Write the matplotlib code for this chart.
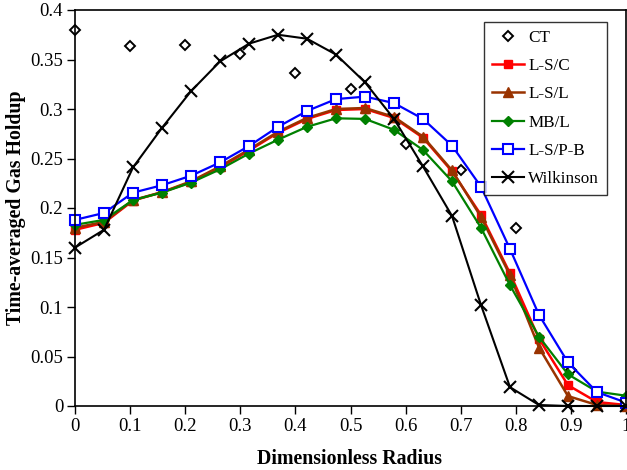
import matplotlib
matplotlib.use("Agg")
import matplotlib.pyplot as plt
import numpy as np

plt.rcParams['font.family'] = ['Liberation Serif', 'DejaVu Serif']

r_sim = [i / 19 for i in range(20)]
r_ct = [0.0, 0.1, 0.2, 0.3, 0.4, 0.5, 0.6, 0.7, 0.8, 0.9]

ct = [0.380, 0.364, 0.365, 0.356, 0.336, 0.320, 0.265, 0.238, 0.180, 0.036]
ls_c = [0.178, 0.185, 0.2075, 0.216, 0.226, 0.241, 0.258, 0.276, 0.290, 0.299,
        0.300, 0.291, 0.271, 0.237, 0.193, 0.134, 0.068, 0.021, 0.004, 0.001]
ls_l = [0.180, 0.186, 0.208, 0.216, 0.227, 0.242, 0.259, 0.277, 0.291, 0.300,
        0.301, 0.292, 0.272, 0.238, 0.191, 0.132, 0.059, 0.010, 0.001, 0.000]
mb_l = [0.183, 0.188, 0.208, 0.2155, 0.2256, 0.239, 0.255, 0.269, 0.282, 0.2906,
        0.290, 0.279, 0.2586, 0.227, 0.180, 0.122, 0.070, 0.032, 0.0145, 0.0104]
ls_pb = [0.188, 0.195, 0.2155, 0.223, 0.2326, 0.246, 0.2626, 0.282, 0.298, 0.310,
         0.3125, 0.306, 0.290, 0.263, 0.2215, 0.1586, 0.092, 0.044, 0.014, 0.0035]
wilk = [0.160, 0.178, 0.241, 0.281, 0.318, 0.348, 0.366, 0.375, 0.371, 0.355,
        0.327, 0.290, 0.242, 0.192, 0.102, 0.019, 0.001, 0.000, 0.000, 0.000]

fig = plt.figure(figsize=(6.27, 4.70), dpi=100)
ax = fig.add_axes([75/627, 1 - 406/470, 551/627, 396/470])

ax.plot(r_ct, ct, linestyle='none', marker='D', markersize=5.5, markerfacecolor='white',
        markeredgecolor='black', markeredgewidth=1.4, label='CT', clip_on=False)
ax.plot(r_sim, ls_c, color='#FF0000', lw=1.8, marker='s', markersize=6, label='L-S/C', clip_on=False)
ax.plot(r_sim, ls_l, color='#993300', lw=1.8, marker='^', markersize=6.5, label='L-S/L', clip_on=False)
ax.plot(r_sim, mb_l, color='#008000', lw=1.6, marker='D', markersize=5, label='MB/L', clip_on=False)
ax.plot(r_sim, ls_pb, color='#0000FF', lw=1.6, marker='s', markersize=6.5, markerfacecolor='white',
        markeredgewidth=1.5, label='L-S/P-B', clip_on=False)
ax.plot(r_sim, wilk, color='black', lw=1.5, marker='x', markersize=8.5, markeredgewidth=1.5,
        label='Wilkinson', clip_on=False)

ax.set_xlim(0, 1)
ax.set_ylim(0, 0.4)
ax.set_xticks([0, 0.1, 0.2, 0.3, 0.4, 0.5, 0.6, 0.7, 0.8, 0.9, 1.0])
ax.set_xticklabels(['0', '0.1', '0.2', '0.3', '0.4', '0.5', '0.6', '0.7', '0.8', '0.9', '1'])
ax.set_yticks([0, 0.05, 0.1, 0.15, 0.2, 0.25, 0.3, 0.35, 0.4])
ax.set_yticklabels(['0', '0.05', '0.1', '0.15', '0.2', '0.25', '0.3', '0.35', '0.4'])
ax.tick_params(direction='out', length=6, width=1, labelsize=13.5, top=False, right=False, pad=2.5)
for s in ax.spines.values():
    s.set_linewidth(1.2)

ax.set_xlabel('Dimensionless Radius', fontsize=14.3, fontweight='bold')
ax.set_ylabel('Time-averaged Gas Holdup', fontsize=14.3, fontweight='bold')
ax.xaxis.set_label_coords(0.498, -0.133)
ax.xaxis.label.set_va('center')
ax.yaxis.set_label_coords(-0.107, 0.5)
ax.yaxis.label.set_va('center')

leg = ax.legend(loc='upper right', bbox_to_anchor=((607 - 75) / 551, (406 - 22) / 396),
                borderaxespad=0, fontsize=12.3,
                frameon=True, fancybox=False, edgecolor='black', handlelength=1.9,
                borderpad=0.45, labelspacing=0.72, handletextpad=0.25)
leg.get_frame().set_linewidth(1.0)

fig.savefig('out.png', dpi=100)
